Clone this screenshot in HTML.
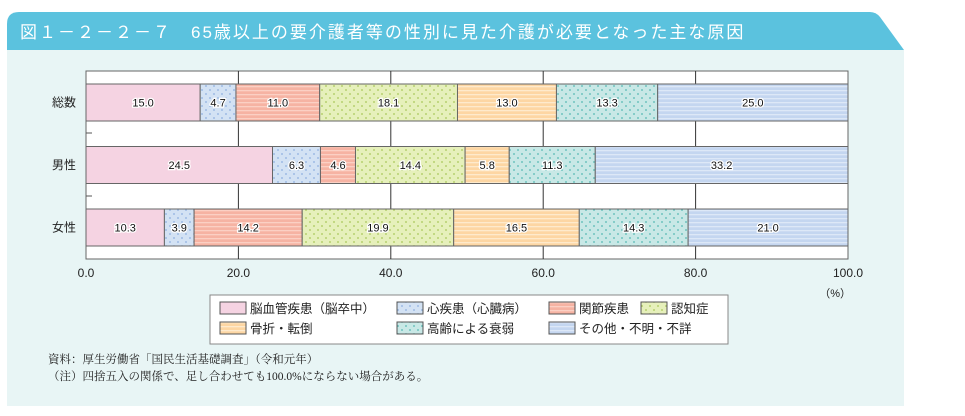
<!DOCTYPE html>
<html><head><meta charset="utf-8"><style>
body{margin:0;background:#fff;font-family:"Liberation Sans","Noto Sans CJK JP",sans-serif}
</style></head><body>
<svg width="965" height="411" viewBox="0 0 965 411" xmlns="http://www.w3.org/2000/svg">
<defs>
<pattern id="p1" width="4" height="4" patternUnits="userSpaceOnUse"><rect width="4" height="4" fill="#f5d3e2"/></pattern>
<pattern id="p2" width="8" height="8" patternUnits="userSpaceOnUse"><rect width="8" height="8" fill="#d3e2f4"/><circle cx="2" cy="2" r="0.9" fill="#8fb0e0"/><circle cx="6" cy="6" r="0.9" fill="#8fb0e0"/></pattern>
<pattern id="p3" width="4" height="4" patternUnits="userSpaceOnUse"><rect width="4" height="4" fill="#f6b3a3"/><rect y="2" width="4" height="1.3" fill="#fbd0c4"/></pattern>
<pattern id="p4" width="8" height="8" patternUnits="userSpaceOnUse"><rect width="8" height="8" fill="#e6f0bb"/><circle cx="2" cy="2" r="0.9" fill="#a8c85a"/><circle cx="6" cy="6" r="0.9" fill="#a8c85a"/></pattern>
<pattern id="p5" width="4" height="4" patternUnits="userSpaceOnUse"><rect width="4" height="4" fill="#fdd6a3"/><rect y="2" width="4" height="1.3" fill="#feeacc"/></pattern>
<pattern id="p6" width="8" height="8" patternUnits="userSpaceOnUse"><rect width="8" height="8" fill="#c8e8e6"/><circle cx="2" cy="2" r="0.9" fill="#55b8b4"/><circle cx="6" cy="6" r="0.9" fill="#55b8b4"/></pattern>
<pattern id="p7" width="4" height="4" patternUnits="userSpaceOnUse"><rect width="4" height="4" fill="#c4d6f0"/><rect y="2" width="4" height="1.3" fill="#dde8f7"/></pattern>
</defs>
<rect x="7" y="50" width="897" height="356" fill="#e8f5f5"/>
<path d="M7 50 L7 24 Q7 12 19 12 L870 12 Q876 12 880 17 L904 50 Z" fill="#5bc2de"/>
<text x="20" y="38" font-size="17" letter-spacing="2" fill="#fff">図１－２－２－７　65歳以上の要介護者等の性別に見た介護が必要となった主な原因</text>
<rect x="86" y="71" width="762" height="188" fill="#fff" stroke="#666" stroke-width="1"/>
<g id="grid"></g>
<g id="bars"></g>
<g id="axis"></g>
<text x="851" y="297" font-size="11" text-anchor="end" fill="#222">（%）</text>
<g>
<rect x="210" y="295" width="518" height="49" fill="#fff" stroke="#888"/>
<g id="legend"></g>
</g>
<text x="48" y="363" font-size="11.5" fill="#222" font-family="Liberation Serif,Noto Serif CJK SC,serif">資料：厚生労働省「国民生活基礎調査」（令和元年）</text>
<text x="48" y="380" font-size="11.5" fill="#222" font-family="Liberation Serif,Noto Serif CJK SC,serif">（注）四捨五入の関係で、足し合わせても100.0%にならない場合がある。</text>
</svg>
<script>
const categories=["総数","男性","女性"];
const seriesNames=["脳血管疾患（脳卒中）","心疾患（心臓病）","関節疾患","認知症","骨折・転倒","高齢による衰弱","その他・不明・不詳"];
const total=[15.0,4.7,11.0,18.1,13.0,13.3,25.0];
const male=[24.5,6.3,4.6,14.4,5.8,11.3,33.2];
const female=[10.3,3.9,14.2,19.9,16.5,14.3,21.0];
const xTicks=[0,20,40,60,80,100];
const rows=[total,male,female];
const NS="http://www.w3.org/2000/svg";
const X0=86,X1=848;
const x=v=>X0+(X1-X0)*v/100;
const rowY=i=>84+i*62.5;const BH=37;
function el(t,a,p){const e=document.createElementNS(NS,t);for(const k in a)e.setAttribute(k,a[k]);p.appendChild(e);return e;}
const grid=document.getElementById('grid'),bars=document.getElementById('bars'),axis=document.getElementById('axis'),leg=document.getElementById('legend');
xTicks.forEach(t=>{
 if(t>0&&t<100){const l=el('line',{x1:x(t),x2:x(t),y1:71,y2:259,stroke:'#333','stroke-width':1},grid);
 
 }
 const tx=el('text',{x:x(t),y:277,'font-size':12,'text-anchor':'middle',fill:'#222'},axis);tx.textContent=t.toFixed(1);
 
 
});
[133,196].forEach(y=>{const l=el('line',{x1:86,x2:92,y1:y,y2:y,stroke:'#555'},axis);
 
 });
rows.forEach((r,i)=>{
 const y=rowY(i);const sum=r.reduce((a,b)=>a+b,0);let c=0;
 const lb=el('text',{x:76,y:y+BH/2+4,'font-size':12,'text-anchor':'end',fill:'#222'},axis);lb.textContent=categories[i];
 
 
 r.forEach((v,j)=>{
  const a=x(c*100/sum),b=x((c+v)*100/sum);c+=v;
  const rc=el('rect',{x:a,y:y,width:b-a,height:BH,fill:'url(#p'+(j+1)+')',stroke:'#666','stroke-width':1},bars);
  
  
  const tt=el('text',{x:(a+b)/2,y:y+BH/2+4,'font-size':11,'text-anchor':'middle',fill:'#111',stroke:'#fff','stroke-width':2.5,'paint-order':'stroke'},bars);tt.textContent=v.toFixed(1);
  
  
 });
});
const lx=[220,397,549,641];
seriesNames.forEach((n,j)=>{
 const row=j<4?0:1;const px=j<4?lx[j]:lx[j-4];
 const yy=302+row*20;
 const g=el('g',{},leg);
 
 
 el('rect',{x:px,y:yy,width:26,height:12,fill:'url(#p'+(j+1)+')',stroke:'#555'},g);
 const t=el('text',{x:px+30,y:yy+11,'font-size':12.5,fill:'#222'},g);t.textContent=n;
});
</script>
</body></html>
